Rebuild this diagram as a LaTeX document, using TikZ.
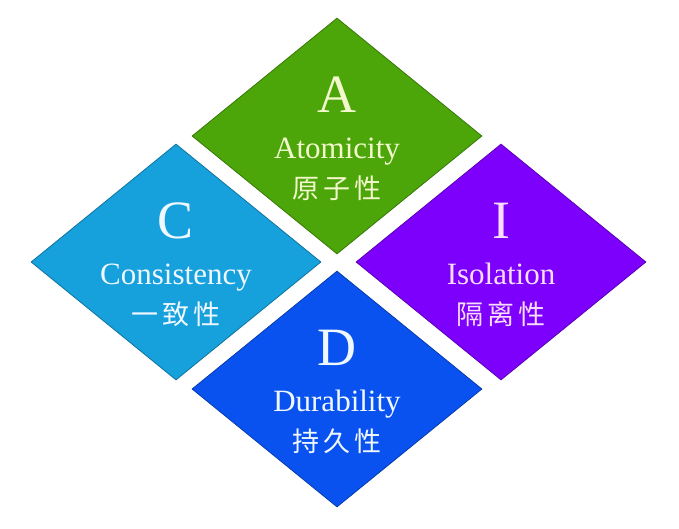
\documentclass[tikz,border=0pt]{standalone}
\usepackage{fontspec}
\setmainfont{Liberation Serif}
\newfontfamily\cjk[LetterSpace=14]{Noto Sans CJK SC}
\usetikzlibrary{shapes.geometric}
\definecolor{acidgreen}{HTML}{4CA60A}
\definecolor{acidcyan}{HTML}{16A0DC}
\definecolor{acidpurple}{HTML}{7D00FC}
\definecolor{acidblue}{HTML}{0A52F0}
\definecolor{paleyellow}{HTML}{F2F8CC}
\definecolor{palepink}{HTML}{F8DDFF}
\definecolor{paleblue}{HTML}{F0F8FF}

\begin{document}
\begin{tikzpicture}[x=1pt,y=-1pt,
 tile/.style={diamond,fill=#1,draw=#1!72!black,line width=0.8pt,
 minimum width=290pt,minimum height=236pt,inner sep=0pt},
 bigletter/.style={anchor=base,inner sep=0pt,font=\fontsize{54}{54}\selectfont},
 engname/.style={anchor=base,inner sep=0pt,font=\fontsize{31}{31}\selectfont},
 cjkname/.style={anchor=base,inner sep=0pt,font=\cjk\fontsize{27}{27}\selectfont}]
 \useasboundingbox (0,0) rectangle (679,528);
 \foreach \name/\cx/\cy/\col/\txt/\letter/\eng/\zh in {
 A/337/136/acidgreen/paleyellow/A/Atomicity/原子性,
 C/176/262/acidcyan/paleblue/C/Consistency/一致性,
 I/501/262/acidpurple/palepink/I/Isolation/隔离性,
 D/337/389/acidblue/paleblue/D/Durability/持久性}{
 \node[tile=\col] (\name) at (\cx,\cy) {};
 \node[bigletter,text=\txt] (\name-letter) at ([yshift=24pt]\name.center) {\letter};
 \node[engname,text=\txt] (\name-eng) at ([yshift=-22pt]\name.center) {\eng};
 \node[cjkname,text=\txt] (\name-zh) at ([yshift=-62pt]\name.center) {\zh};
 }
\end{tikzpicture}
\end{document}
